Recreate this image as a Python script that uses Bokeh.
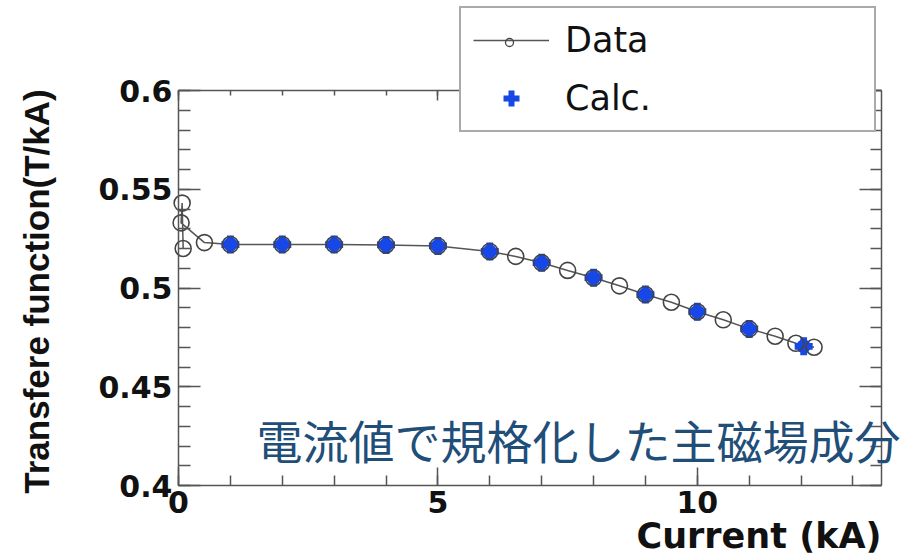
from math import pi
from bokeh.plotting import figure
from bokeh.models import (Range1d, LinearAxis, FixedTicker, CustomJSTickFormatter,
                          Legend, LegendItem, Label, ColumnDataSource)
from bokeh.embed import file_html
from bokeh.resources import INLINE

# ---- data ----
data_x = [0.09, 0.07, 0.05, 0.5, 1, 2, 3, 4, 5, 6, 6.5, 7, 7.5, 8, 8.5, 9, 9.5,
          10, 10.5, 11, 11.5, 11.9, 12.25]
data_y = [0.520, 0.543, 0.533, 0.523, 0.522, 0.522, 0.522, 0.5218, 0.5213, 0.5185,
          0.516, 0.5128, 0.5089, 0.5052, 0.5011, 0.4967, 0.4928, 0.488, 0.4839,
          0.4793, 0.4756, 0.472, 0.470]
calc_x = [1, 2, 3, 4, 5, 6, 7, 8, 9, 10, 11, 12.05]
calc_y = [0.522, 0.522, 0.522, 0.5218, 0.5213, 0.5185, 0.5128, 0.5052, 0.4967,
          0.488, 0.4793, 0.4705]

y_ticks = [0.4, 0.45, 0.5, 0.55, 0.6]
y_minor = [round(0.4 + 0.01 * i, 2) for i in range(21)]
x_ticks = [0, 5, 10]
x_minor = list(range(0, 14))
x_max = 13.55

series_names = ["Data", "Calc."]
x_title = "Current (kA)"
y_title = "Transfere function(T/kA)"
note_text = "電流値で規格化した主磁場成分"

BLUE = "#1747e6"
GRAY = "#555555"
W, H = 910, 558

# axes box in pixels (left, right, top, bottom)
BX0, BX1, BY0, BY1 = 178, 881, 90, 485
Y_LO, Y_HI = y_ticks[0], y_ticks[-1]
SX = (BX1 - BX0) / x_max
SY = (BY1 - BY0) / (Y_HI - Y_LO)


def dx(px):
    return (px - BX0) / SX


def dy(py):
    return Y_LO + (BY1 - py) / SY


p = figure(width=W, height=H, output_backend="svg", toolbar_location=None,
           x_range=Range1d(dx(0), dx(W)), y_range=Range1d(dy(H), dy(0)),
           min_border=0)
p.xgrid.visible = False
p.ygrid.visible = False
p.background_fill_color = "white"
p.border_fill_color = "white"
p.outline_line_color = None

fmt = CustomJSTickFormatter(code="return String(Math.round(tick*100)/100)")


def style(ax, major, minor, labels=True):
    ax.axis_line_color = GRAY
    ax.axis_line_width = 1.5
    ax.major_tick_line_color = GRAY
    ax.major_tick_line_width = 1.5
    ax.minor_tick_line_color = GRAY
    ax.minor_tick_line_width = 1.5
    ax.major_tick_in = major
    ax.major_tick_out = 0
    ax.minor_tick_in = minor
    ax.minor_tick_out = 0
    if labels:
        ax.major_label_text_font = "DejaVu Sans"
        ax.major_label_text_font_style = "bold"
        ax.major_label_text_font_size = "30px"
        ax.major_label_text_color = "#111111"
    else:
        ax.major_label_text_color = None


xax = p.xaxis[0]
xax.ticker = FixedTicker(ticks=x_ticks, minor_ticks=x_minor)
xax.formatter = fmt
xax.fixed_location = Y_LO
xax.bounds = (0, x_max)
style(xax, 18, 10)
xax.major_label_standoff = 5

yax = p.yaxis[0]
yax.ticker = FixedTicker(ticks=y_ticks, minor_ticks=y_minor)
yax.formatter = fmt
yax.fixed_location = 0
yax.bounds = (Y_LO, Y_HI)
style(yax, 22, 12)
yax.major_label_standoff = 6

rax = LinearAxis(ticker=FixedTicker(ticks=y_ticks, minor_ticks=y_minor),
                 fixed_location=x_max, bounds=(Y_LO, Y_HI))
style(rax, 22, 11, labels=False)
p.add_layout(rax, "right")

tax = LinearAxis(ticker=FixedTicker(ticks=x_ticks, minor_ticks=x_minor),
                 fixed_location=Y_HI, bounds=(0, x_max))
style(tax, 10, 5, labels=False)
p.add_layout(tax, "above")

# axis titles
p.add_layout(Label(x=dx(36), y=dy(291), text=y_title, angle=pi / 2,
                   text_align="center", text_baseline="middle",
                   text_font="Liberation Sans", text_font_style="bold",
                   text_font_size="35px", text_color="#111111"))
p.add_layout(Label(x=x_max, y=dy(515), text=x_title, text_align="right",
                   text_baseline="top", text_font="DejaVu Sans",
                   text_font_style="bold", text_font_size="35px",
                   text_color="#111111"))

src_d = ColumnDataSource(dict(x=data_x, y=data_y))
src_c = ColumnDataSource(dict(x=calc_x, y=calc_y))

line_r = p.line("x", "y", source=src_d, line_color=GRAY, line_width=1.5)
p.scatter("x", "y", source=src_c, marker="circle", size=14, fill_color=BLUE,
          line_color=None)
calc_r = p.scatter("x", "y", source=src_c, marker="plus", size=18, fill_color=BLUE,
                   line_color=None)
p.scatter("x", "y", source=src_d, marker="circle", size=16, fill_color=None,
          line_color="#444444", line_width=1.6)
dot_r = p.scatter("x", "y", source=src_d, marker="circle", size=8, fill_color=None,
                  line_color="#444444", line_width=1.3, visible=False)

leg = Legend(items=[LegendItem(label=series_names[0], renderers=[line_r]),
                    LegendItem(label=series_names[1], renderers=[calc_r])],
             location=(459, H - 132), margin=0, padding=12, spacing=18,
             glyph_width=76, glyph_height=40, label_height=40, label_width=297,
             label_standoff=16, label_text_font="DejaVu Sans",
             label_text_font_size="35px", label_text_color="#111111",
             border_line_color=GRAY, border_line_width=2,
             background_fill_color="white", background_fill_alpha=1.0)
p.add_layout(leg, "center")

leg2 = Legend(items=[LegendItem(label=" ", renderers=[dot_r])],
              location=(499, H - 52), margin=0, padding=0, spacing=0,
              glyph_width=20, glyph_height=20, label_height=20, label_width=0,
              label_standoff=0, label_text_color=None,
              border_line_color=None, background_fill_alpha=0)
p.add_layout(leg2, "center")

p.add_layout(Label(x=dx(256), y=dy(438), text=note_text, text_align="left",
                   text_baseline="middle", text_font="Noto Sans CJK JP",
                   text_font_size="46px", text_color="#1f4e79"))

open("out.html", "w").write(file_html(p, INLINE))
